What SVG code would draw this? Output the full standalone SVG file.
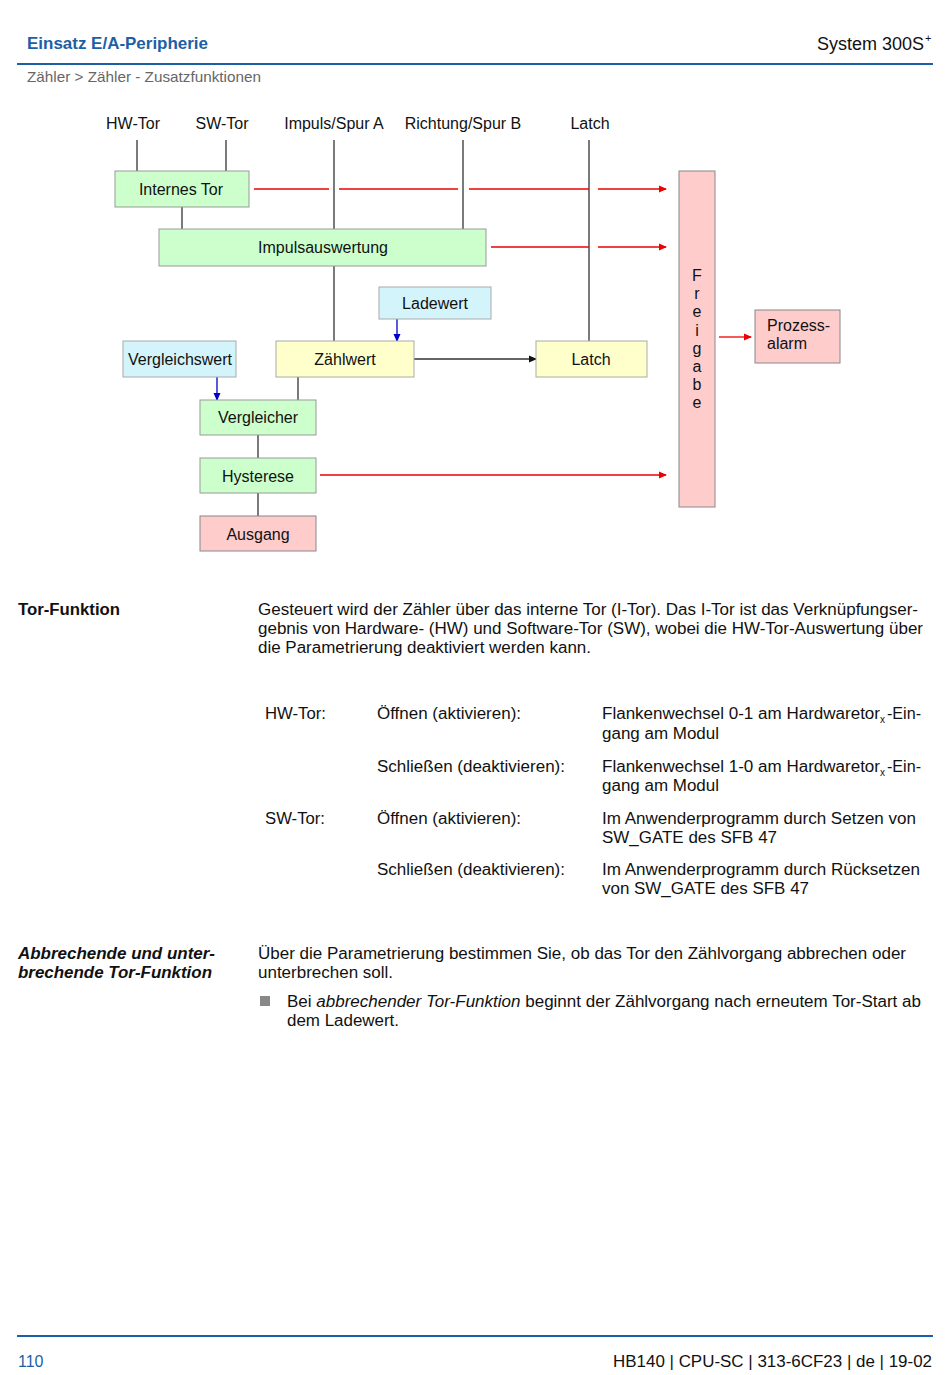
<svg xmlns="http://www.w3.org/2000/svg" width="950" height="1375" viewBox="0 0 950 1375">
<style>
text{font-family:"Liberation Sans",Arial,sans-serif;fill:#111}
.hd{font-size:17px;font-weight:bold;fill:#1d5fa6}
.bc{font-size:15px;fill:#666}
.lb{font-size:16px;text-anchor:middle}
.nt{font-size:16px;text-anchor:middle}
.bd{font-size:16px}
.g{fill:#ccffcc;stroke:#999;stroke-width:1}
.y{fill:#ffffcc;stroke:#aaa;stroke-width:1}
.c{fill:#d4f4fc;stroke:#aaa;stroke-width:1}
.p{fill:#ffcccc;stroke:#888;stroke-width:1}
.k{stroke:#333;stroke-width:1.3;fill:none}
.r{stroke:#e00;stroke-width:1.3;fill:none}
.b{stroke:#00c;stroke-width:1.3;fill:none}
.rule{stroke:#1d5fa6;stroke-width:2}
</style>
<defs>
<marker id="ar" markerWidth="8" markerHeight="8" refX="7" refY="4" orient="auto" markerUnits="userSpaceOnUse" viewBox="0 0 8 8"><path d="M0,0.5 L8,4 L0,7.5z" fill="#e00"/></marker>
<marker id="ab" markerWidth="8" markerHeight="8" refX="7" refY="4" orient="auto" markerUnits="userSpaceOnUse" viewBox="0 0 8 8"><path d="M0,0.5 L8,4 L0,7.5z" fill="#00c"/></marker>
<marker id="ak" markerWidth="8" markerHeight="8" refX="7" refY="4" orient="auto" markerUnits="userSpaceOnUse" viewBox="0 0 8 8"><path d="M0,0.5 L8,4 L0,7.5z" fill="#111"/></marker>
</defs>

<!-- header -->
<text x="27" y="49" class="hd" textLength="181" lengthAdjust="spacingAndGlyphs">Einsatz E/A-Peripherie</text>
<text x="924" y="50" font-size="18" text-anchor="end">System 300S</text>
<text x="925" y="42" font-size="11">+</text>
<line x1="17" y1="64" x2="933" y2="64" class="rule"/>
<text x="27" y="82" class="bc" textLength="234" lengthAdjust="spacingAndGlyphs">Zähler &gt; Zähler - Zusatzfunktionen</text>

<!-- input labels -->
<g id="inputs">
<text x="133" y="129" class="lb">HW-Tor</text>
<text x="222" y="129" class="lb">SW-Tor</text>
<text x="334" y="129" class="lb">Impuls/Spur A</text>
<text x="463" y="129" class="lb">Richtung/Spur B</text>
<text x="590" y="129" class="lb">Latch</text>
</g>

<!-- connectors -->
<g id="connectors">
<line x1="137" y1="140" x2="137" y2="171" class="k"/>
<line x1="226" y1="140" x2="226" y2="171" class="k"/>
<line x1="334" y1="140" x2="334" y2="229" class="k"/>
<line x1="334" y1="266" x2="334" y2="341" class="k"/>
<line x1="463" y1="140" x2="463" y2="229" class="k"/>
<line x1="589" y1="140" x2="589" y2="341" class="k"/>
<line x1="182" y1="207" x2="182" y2="229" class="k"/>
<line x1="298" y1="377" x2="298" y2="400" class="k"/>
<line x1="258" y1="435" x2="258" y2="458" class="k"/>
<line x1="258" y1="493" x2="258" y2="516" class="k"/>
<line x1="414" y1="359" x2="536" y2="359" class="k" marker-end="url(#ak)"/>
<line x1="397" y1="319" x2="397" y2="341" class="b" marker-end="url(#ab)"/>
<line x1="217" y1="377" x2="217" y2="400" class="b" marker-end="url(#ab)"/>
<line x1="254" y1="189" x2="329" y2="189" class="r"/>
<line x1="339" y1="189" x2="458" y2="189" class="r"/>
<line x1="469" y1="189" x2="589" y2="189" class="r"/>
<line x1="598" y1="189" x2="666" y2="189" class="r" marker-end="url(#ar)"/>
<line x1="491" y1="247" x2="589" y2="247" class="r"/>
<line x1="598" y1="247" x2="666" y2="247" class="r" marker-end="url(#ar)"/>
<line x1="320" y1="475" x2="666" y2="475" class="r" marker-end="url(#ar)"/>
<line x1="719" y1="337" x2="751" y2="337" class="r" marker-end="url(#ar)"/>
</g>

<!-- nodes -->
<g id="internes-tor"><rect x="115" y="171" width="134" height="36" class="g"/><text x="181" y="195" class="nt">Internes Tor</text></g>
<g id="impulsauswertung"><rect x="159" y="229" width="327" height="37" class="g"/><text x="323" y="253" class="nt">Impulsauswertung</text></g>
<g id="ladewert"><rect x="379" y="287" width="112" height="32" class="c"/><text x="435" y="309" class="nt">Ladewert</text></g>
<g id="vergleichswert"><rect x="123" y="341" width="113" height="36" class="c"/><text x="180" y="365" class="nt">Vergleichswert</text></g>
<g id="zaehlwert"><rect x="276" y="341" width="138" height="36" class="y"/><text x="345" y="365" class="nt">Zählwert</text></g>
<g id="latch"><rect x="536" y="341" width="111" height="36" class="y"/><text x="591" y="365" class="nt">Latch</text></g>
<g id="vergleicher"><rect x="200" y="400" width="116" height="35" class="g"/><text x="258" y="423" class="nt">Vergleicher</text></g>
<g id="hysterese"><rect x="200" y="458" width="116" height="35" class="g"/><text x="258" y="482" class="nt">Hysterese</text></g>
<g id="ausgang"><rect x="200" y="516" width="116" height="35" class="p"/><text x="258" y="540" class="nt">Ausgang</text></g>
<g id="freigabe"><rect x="679" y="171" width="36" height="336" class="p"/>
<text class="nt" x="697"><tspan x="697" y="281">F</tspan><tspan x="697" y="299">r</tspan><tspan x="697" y="317">e</tspan><tspan x="697" y="336">i</tspan><tspan x="697" y="354">g</tspan><tspan x="697" y="372">a</tspan><tspan x="697" y="390">b</tspan><tspan x="697" y="408">e</tspan></text></g>
<g id="prozessalarm"><rect x="755" y="310" width="85" height="53" class="p"/><text x="767" y="331" class="bd">Prozess-</text><text x="767" y="349" class="bd">alarm</text></g>

<!-- body text -->
<text x="18" y="615" class="bd" font-weight="bold" textLength="102" lengthAdjust="spacingAndGlyphs">Tor-Funktion</text>
<text x="258" y="615" class="bd" textLength="660" lengthAdjust="spacingAndGlyphs">Gesteuert wird der Zähler über das interne Tor (I-Tor). Das I-Tor ist das Verknüpfungser-</text>
<text x="258" y="634" class="bd" textLength="665" lengthAdjust="spacingAndGlyphs">gebnis von Hardware- (HW) und Software-Tor (SW), wobei die HW-Tor-Auswertung über</text>
<text x="258" y="653" class="bd" textLength="333" lengthAdjust="spacingAndGlyphs">die Parametrierung deaktiviert werden kann.</text>

<text x="265" y="719" class="bd" textLength="61" lengthAdjust="spacingAndGlyphs">HW-Tor:</text>
<text x="377" y="719" class="bd" textLength="144" lengthAdjust="spacingAndGlyphs">Öffnen (aktivieren):</text>
<text x="602" y="719" class="bd" textLength="278" lengthAdjust="spacingAndGlyphs">Flankenwechsel 0-1 am Hardwaretor</text>
<text x="880" y="723" font-size="10">x</text>
<text x="887" y="719" class="bd" textLength="34" lengthAdjust="spacingAndGlyphs">-Ein-</text>
<text x="602" y="739" class="bd" textLength="117" lengthAdjust="spacingAndGlyphs">gang am Modul</text>
<text x="377" y="772" class="bd" textLength="188" lengthAdjust="spacingAndGlyphs">Schließen (deaktivieren):</text>
<text x="602" y="772" class="bd" textLength="278" lengthAdjust="spacingAndGlyphs">Flankenwechsel 1-0 am Hardwaretor</text>
<text x="880" y="776" font-size="10">x</text>
<text x="887" y="772" class="bd" textLength="34" lengthAdjust="spacingAndGlyphs">-Ein-</text>
<text x="602" y="791" class="bd" textLength="117" lengthAdjust="spacingAndGlyphs">gang am Modul</text>
<text x="265" y="824" class="bd" textLength="60" lengthAdjust="spacingAndGlyphs">SW-Tor:</text>
<text x="377" y="824" class="bd" textLength="144" lengthAdjust="spacingAndGlyphs">Öffnen (aktivieren):</text>
<text x="602" y="824" class="bd" textLength="314" lengthAdjust="spacingAndGlyphs">Im Anwenderprogramm durch Setzen von</text>
<text x="602" y="843" class="bd" textLength="175" lengthAdjust="spacingAndGlyphs">SW_GATE des SFB 47</text>
<text x="377" y="875" class="bd" textLength="188" lengthAdjust="spacingAndGlyphs">Schließen (deaktivieren):</text>
<text x="602" y="875" class="bd" textLength="318" lengthAdjust="spacingAndGlyphs">Im Anwenderprogramm durch Rücksetzen</text>
<text x="602" y="894" class="bd" textLength="207" lengthAdjust="spacingAndGlyphs">von SW_GATE des SFB 47</text>

<text x="18" y="959" class="bd" font-weight="bold" font-style="italic" textLength="197" lengthAdjust="spacingAndGlyphs">Abbrechende und unter-</text>
<text x="18" y="978" class="bd" font-weight="bold" font-style="italic" textLength="194" lengthAdjust="spacingAndGlyphs">brechende Tor-Funktion</text>
<text x="258" y="959" class="bd" textLength="648" lengthAdjust="spacingAndGlyphs">Über die Parametrierung bestimmen Sie, ob das Tor den Zählvorgang abbrechen oder</text>
<text x="258" y="978" class="bd" textLength="135" lengthAdjust="spacingAndGlyphs">unterbrechen soll.</text>
<rect x="260" y="996" width="10" height="10" fill="#888"/>
<text x="287" y="1007" class="bd" textLength="634" lengthAdjust="spacingAndGlyphs">Bei <tspan font-style="italic">abbrechender Tor-Funktion</tspan> beginnt der Zählvorgang nach erneutem Tor-Start ab</text>
<text x="287" y="1026" class="bd" textLength="112" lengthAdjust="spacingAndGlyphs">dem Ladewert.</text>

<!-- footer -->
<line x1="17" y1="1336" x2="933" y2="1336" class="rule"/>
<text x="18" y="1367" font-size="16" style="fill:#1d5fa6">110</text>
<text x="932" y="1367" font-size="16" text-anchor="end" textLength="319" lengthAdjust="spacingAndGlyphs">HB140 | CPU-SC | 313-6CF23 | de | 19-02</text>
</svg>
